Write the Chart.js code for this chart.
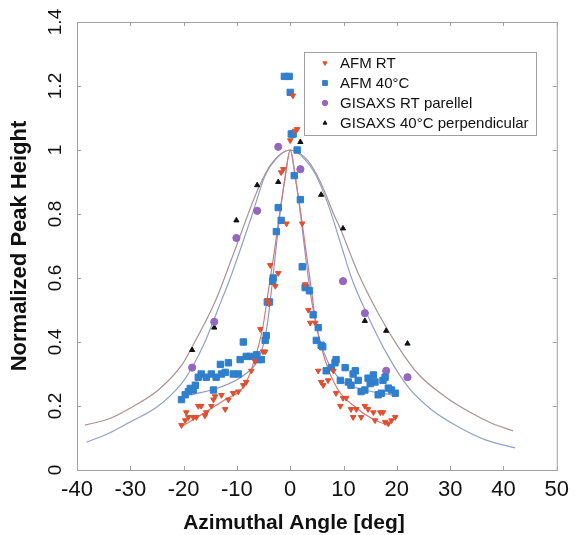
<!DOCTYPE html>
<html>
<head>
<meta charset="utf-8">
<script src="https://cdn.jsdelivr.net/npm/chart.js@4.4.1/dist/chart.umd.min.js"></script>
<style>
  html, body { margin: 0; padding: 0; background: #fff; }
</style>
</head>
<body>
<canvas id="myChart" width="576" height="535"></canvas>
<script>
// measured points (deg, normalized height)
let afmRtX = [0.5, 0.9, 1.3, 0.0, -1.3, -1.7, -0.7, 2.25, -3.75, -2.25, -2.8, 2.8, -4.3, -4.0, 3.4, 3.75, 4.7,
  -5.6, -5.1, -4.7, -6.6, -7.3, -8.25, -8.8, -9.75, -10.7, -11.6, -12.2, -12.9, -14.1, -14.4, -14.8, -15.75, -16.0,
  -16.7, -17.25, -17.6, -18.2, -19.1, -19.5, -19.7, -20.4,
  5.25, 5.8, 6.2, 7.1, 8.1, 8.6, 9.4, 9.9, 10.5, 11.4, 11.8, 12.4, 13.3, 14.0, 14.6, 15.6, 15.9, 16.9, 17.4, 17.8, 18.4, 19.0, 19.7];
let afmRtY = [1.17, 1.06, 1.065, 1.03, 0.94, 0.93, 0.77, 0.77, 0.64, 0.615, 0.575, 0.58, 0.53, 0.52, 0.5, 0.46, 0.46,
  0.44, 0.37, 0.37, 0.34, 0.31, 0.275, 0.265, 0.245, 0.24, 0.22, 0.19, 0.234, 0.23, 0.22, 0.2, 0.18, 0.17,
  0.2, 0.2, 0.165, 0.165, 0.165, 0.18, 0.155, 0.14,
  0.31, 0.275, 0.265, 0.28, 0.31, 0.24, 0.2, 0.225, 0.225, 0.19, 0.165, 0.19, 0.165, 0.2, 0.19, 0.18, 0.155, 0.18, 0.18, 0.15, 0.145, 0.155, 0.165];

let afm40X = [-1.1, -0.2, 0.0, 0.2, 0.55, 1.3, 0.75, 1.9, -2.25, -1.7, -2.6, 2.25, -3.2, -3.3, 2.8, 3.6, -3.9, -4.3, 4.3,
  -4.5, -4.7, -8.8, -6.0, -5.4, -6.3, -7.5, -8.25, -9.4, -11.6, -13.1, -9.75, -10.7, -12.2, -12.9, -13.9, -14.8, -15.75,
  -16.7, -17.25, -14.4, -17.8, -18.75, -19.1, -19.7, -20.4, -18.2,
  5.25, 4.9, 5.8, 6.1, 8.6, 8.4, 7.7, 6.75, 9.4, 10.3, 12.2, 11.8, 10.9, 11.4, 12.75, 13.3, 14.0, 14.6, 15.6, 15.0, 15.9,
  17.4, 17.8, 16.5, 17.1, 18.4, 19.0, 19.7];
let afm40Y = [1.23, 1.23, 1.18, 1.05, 1.05, 1.0, 0.92, 0.845, 0.82, 0.78, 0.745, 0.635, 0.6, 0.59, 0.57, 0.56, 0.525, 0.525, 0.485,
  0.42, 0.405, 0.4, 0.345, 0.345, 0.36, 0.355, 0.355, 0.345, 0.335, 0.33, 0.3, 0.3, 0.305, 0.3, 0.29, 0.3, 0.29,
  0.3, 0.29, 0.25, 0.265, 0.255, 0.245, 0.235, 0.22, 0.25,
  0.445, 0.405, 0.39, 0.385, 0.345, 0.335, 0.32, 0.31, 0.28, 0.32, 0.31, 0.3, 0.275, 0.265, 0.28, 0.245, 0.25, 0.287, 0.297, 0.27, 0.275,
  0.28, 0.29, 0.235, 0.24, 0.256, 0.25, 0.24];

let gisRtX = [-2.25, 1.9, -6.2, -10.1, -14.25, -18.4, 9.9, 14.0, 18.0, 22.0];
let gisRtY = [1.01, 0.94, 0.81, 0.725, 0.463, 0.32, 0.59, 0.49, 0.31, 0.29];

let gis40X = [1.9, -2.25, -6.2, -10.1, 5.8, 9.9, -14.25, -18.4, 14.0, 18.0, 22.0];
let gis40Y = [1.025, 0.9, 0.89, 0.78, 0.86, 0.755, 0.445, 0.375, 0.466, 0.435, 0.395];

// fitted curves
let fitWideAX = [-38.5, -34, -30.4, -24.75, -20.25, -18.4, -16, -14.25, -12.9, -10.1, -6, -3.4, 0, 3.4, 5.8, 8.4, 9.4, 11.4, 12.75, 16.5, 20.25, 24, 29, 34, 37.7, 41.8];
let fitWideAY = [0.14, 0.16, 0.19, 0.25, 0.33, 0.385, 0.46, 0.52, 0.575, 0.7, 0.88, 0.96, 1, 0.965, 0.895, 0.79, 0.755, 0.67, 0.615, 0.49, 0.385, 0.3, 0.23, 0.178, 0.147, 0.122];

let fitWideBX = [-38.2, -34, -30.4, -24.75, -20.4, -18.6, -16, -12.9, -11.25, -7.3, -4.7, -2.5, 0, 2.5, 4.7, 7.1, 9.6, 11.5, 14.6, 18.4, 22.1, 26.4, 31.5, 36.5, 42.2];
let fitWideBY = [0.087, 0.115, 0.147, 0.2, 0.27, 0.315, 0.4, 0.53, 0.6, 0.79, 0.92, 0.975, 1, 0.975, 0.925, 0.83, 0.7, 0.6, 0.48, 0.355, 0.26, 0.19, 0.135, 0.095, 0.069];

let fitRtX = [-20.4, -16, -12.2, -8.4, -6, -5.1, -4.1, -3, -2, -1, 0, 1, 2, 3, 4, 4.9, 6.5, 9, 12.2, 15.2, 18.2];
let fitRtY = [0.135, 0.18, 0.22, 0.27, 0.385, 0.45, 0.56, 0.68, 0.8, 0.91, 1, 0.91, 0.8, 0.68, 0.56, 0.45, 0.345, 0.25, 0.197, 0.162, 0.14];

let fit40X = [-18.5, -12.9, -8.4, -6, -4.7, -4.1, -3, -2, -1, 0, 1, 2, 3, 4, 5.5, 7, 9.6, 14, 19];
let fit40Y = [0.235, 0.26, 0.3, 0.345, 0.415, 0.48, 0.64, 0.79, 0.91, 1, 0.91, 0.79, 0.65, 0.53, 0.41, 0.34, 0.28, 0.25, 0.235];

let xTicks = [-40, -30, -20, -10, 0, 10, 20, 30, 40, 50];
let yTicks = [0, 0.2, 0.4, 0.6, 0.8, 1, 1.2, 1.4];
let xTitle = "Azimuthal Angle [deg]";

let fontFamily = "'Liberation Sans', Arial, sans-serif";

function zip(xs, ys) {
  return xs.map((x, i) => ({ x: x, y: ys[i] }));
}

function pointSet(label, xs, ys, color, style, radius, rotation) {
  return {
    label: label,
    data: zip(xs, ys),
    backgroundColor: color,
    borderColor: color,
    borderWidth: 1,
    pointStyle: style,
    pointRadius: radius,
    pointRotation: rotation || 0,
    showLine: false,
  };
}

function fitSet(xs, ys, color) {
  return {
    label: "",
    data: zip(xs, ys),
    borderColor: color,
    borderWidth: 1.2,
    pointRadius: 0,
    showLine: true,
    cubicInterpolationMode: "monotone",
    fill: false,
  };
}

// box round the plot with small inward ticks, plus the x title (sits left of centre)
let frame = {
  id: "frame",
  beforeDatasetsDraw(chart) {
    let { ctx, chartArea: a, scales } = chart;
    ctx.save();
    ctx.strokeStyle = "#a0a0a0";
    ctx.lineWidth = 1;
    ctx.strokeRect(a.left + 0.5, a.top + 0.5, a.right - a.left, a.bottom - a.top);
    ctx.beginPath();
    xTicks.forEach((v) => {
      let px = Math.round(scales.x.getPixelForValue(v)) + 0.5;
      ctx.moveTo(px, a.bottom); ctx.lineTo(px, a.bottom - 4);
      ctx.moveTo(px, a.top); ctx.lineTo(px, a.top + 4);
    });
    yTicks.forEach((v) => {
      let py = Math.round(scales.y.getPixelForValue(v)) + 0.5;
      ctx.moveTo(a.left, py); ctx.lineTo(a.left + 4, py);
      ctx.moveTo(a.right, py); ctx.lineTo(a.right - 4, py);
    });
    ctx.stroke();

    ctx.font = "bold 21px " + fontFamily;
    ctx.fillStyle = "#111";
    ctx.textAlign = "center";
    ctx.textBaseline = "middle";
    ctx.fillText(xTitle, a.left + 217, a.bottom + 53);
    ctx.restore();
  },
};

// legend inside the plot, upper right
let insideLegend = {
  id: "insideLegend",
  afterDatasetsDraw(chart) {
    let ctx = chart.ctx;
    let a = chart.chartArea;
    let left = a.left + 227, top = a.top + 30, w = 232, h = 83;
    ctx.save();
    ctx.fillStyle = "#fff";
    ctx.fillRect(left, top, w, h);
    ctx.strokeStyle = "#a0a0a0";
    ctx.lineWidth = 1;
    ctx.strokeRect(left + 0.5, top + 0.5, w, h);
    ctx.font = "15px " + fontFamily;
    ctx.textBaseline = "middle";
    chart.data.datasets.slice(0, 4).forEach((ds, i) => {
      let y = top + 11 + i * 20;
      ctx.fillStyle = ds.backgroundColor;
      ctx.strokeStyle = ds.borderColor;
      ctx.lineWidth = 1;
      Chart.helpers.drawPoint(ctx, {
        pointStyle: ds.pointStyle,
        radius: ds.pointRadius * 0.75,
        rotation: ds.pointRotation,
        borderWidth: 1,
      }, left + 21, y);
      ctx.fillStyle = "#111";
      ctx.fillText(ds.label, left + 36, y + 1);
    });
    ctx.restore();
  },
};

let ctx = document.getElementById("myChart").getContext("2d");
let chart = new Chart(ctx, {
  type: "scatter",
  data: {
    datasets: [
      pointSet("AFM RT", afmRtX, afmRtY, "#dd5030", "triangle", 3.2, 180),
      pointSet("AFM 40°C", afm40X, afm40Y, "#2f7fcc", "rect", 4.5),
      pointSet("GISAXS RT parellel", gisRtX, gisRtY, "#9466bd", "circle", 3.6),
      pointSet("GISAXS 40°C perpendicular", gis40X, gis40Y, "#111111", "triangle", 3),
      fitSet(fitRtX, fitRtY, "#d27a7a"),
      fitSet(fit40X, fit40Y, "#9095c6"),
      fitSet(fitWideAX, fitWideAY, "#a89393"),
      fitSet(fitWideBX, fitWideBY, "#93a0c6"),
    ],
  },
  options: {
    responsive: false,
    animation: false,
    devicePixelRatio: 1,
    layout: { padding: { top: 22, right: 17, left: 0, bottom: 0 } },
    plugins: {
      legend: { display: false },
      tooltip: { enabled: false },
    },
    scales: {
      x: {
        type: "linear",
        min: -40,
        max: 50,
        afterBuildTicks: (scale) => { scale.ticks = xTicks.map((v) => ({ value: v })); },
        afterFit: (scale) => { scale.height = 65; },
        grid: { display: false, drawTicks: false },
        border: { display: false },
        ticks: {
          color: "#111",
          padding: 7,
          maxRotation: 0,
          font: { family: fontFamily, size: 22 },
          callback: (v) => String(v),
        },
      },
      y: {
        type: "linear",
        min: 0,
        max: 1.4,
        afterBuildTicks: (scale) => { scale.ticks = yTicks.map((v) => ({ value: v })); },
        afterFit: (scale) => { scale.width = 77; },
        grid: { display: false, drawTicks: false },
        border: { display: false },
        ticks: {
          color: "#111",
          padding: 8,
          crossAlign: "center",
          minRotation: 90,
          maxRotation: 90,
          font: { family: fontFamily, size: 19 },
          callback: (v) => String(Math.round(v * 10) / 10),
        },
        title: {
          display: true,
          text: "Normalized Peak Height",
          color: "#111",
          font: { family: fontFamily, size: 22, weight: "bold", lineHeight: 1 },
          padding: { top: 9, bottom: 0 },
        },
      },
    },
  },
  plugins: [frame, insideLegend],
});
</script>
</body>
</html>
